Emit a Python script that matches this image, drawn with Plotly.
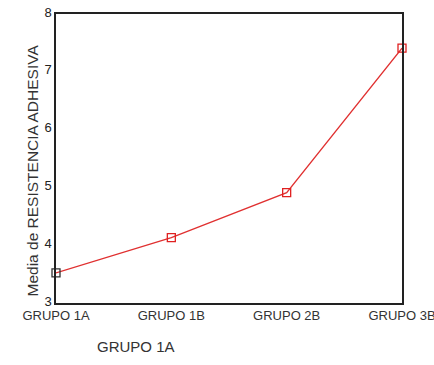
import plotly.graph_objects as go

categories = ["GRUPO 1A", "GRUPO 1B", "GRUPO 2B", "GRUPO 3B"]
means = [3.52, 4.13, 4.91, 7.41]
marker_colors = ["#333333", "#e02020", "#e02020", "#e02020"]
y_ticks = [3, 4, 5, 6, 7, 8]

W, H = 434, 365
L, R, T, B = 56, 32, 14, 62
pw, ph = W - L - R, H - T - B

def px_x(x):
    return (x - L) / pw

def px_y(y):
    return (H - B - y) / ph

fig = go.Figure()
fig.add_trace(go.Scatter(
    x=categories, y=means, mode="lines+markers",
    line=dict(color="#e03030", width=1.3),
    marker=dict(symbol="square-open", size=8, color=marker_colors, line=dict(width=1.3)),
    cliponaxis=False, showlegend=False,
))

fig.update_layout(
    width=W, height=H,
    margin=dict(l=L, r=R, t=T, b=B, autoexpand=False),
    paper_bgcolor="white", plot_bgcolor="white",
    font=dict(family="Liberation Sans, Arial, sans-serif", color="#333333", size=13),
    xaxis=dict(type="category", range=[0, 3], showgrid=False, zeroline=False,
               showline=True, linecolor="#222222", linewidth=1.5, mirror=True,
               ticks="", tickfont=dict(size=13), automargin=False),
    yaxis=dict(range=[3, 8], tickvals=y_ticks, showgrid=False, zeroline=False,
               showline=True, linecolor="#222222", linewidth=1.5, mirror=True,
               ticks="", tickfont=dict(size=13, color="#222222"), automargin=False,
               ticklabelshift=-2),
    annotations=[
        dict(text="Media de RESISTENCIA ADHESIVA", textangle=-90, x=px_x(21), y=px_y(171),
             xref="paper", yref="paper", showarrow=False, font=dict(size=15.5)),
        dict(text="GRUPO 1A", x=px_x(95), y=px_y(357), xref="paper", yref="paper",
             showarrow=False, font=dict(size=15)),
    ],
)

fig.write_html(
    "out.html",
    config={"displayModeBar": False},
    post_script="document.body.style.margin='0';document.body.style.overflow='hidden';",
)
